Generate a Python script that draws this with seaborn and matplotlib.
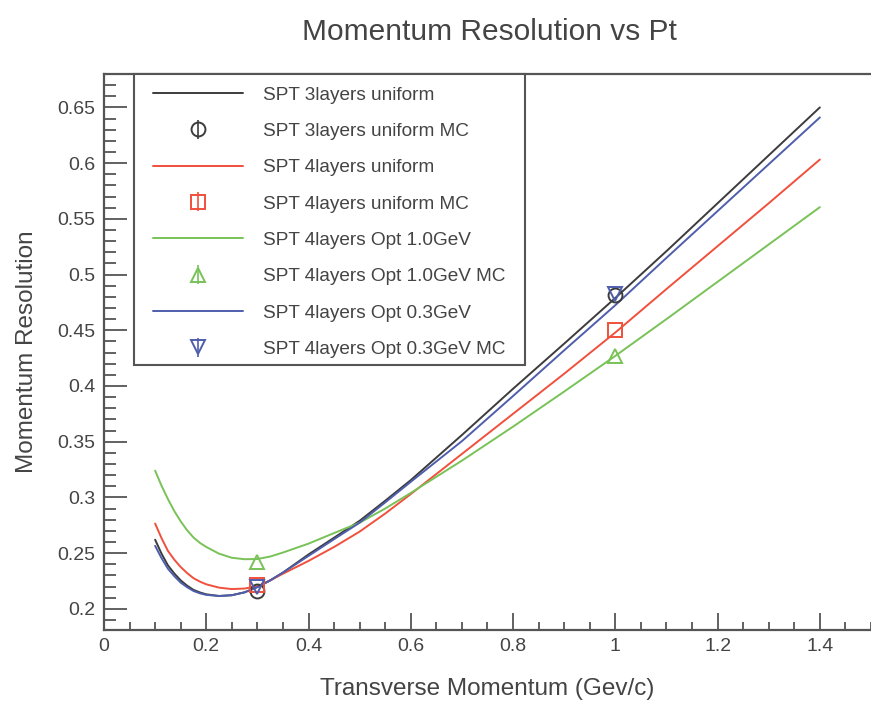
import matplotlib
matplotlib.use("Agg")
import matplotlib.pyplot as plt
import matplotlib.ticker as mticker
from matplotlib.patches import Rectangle
import pandas as pd
import seaborn as sns

# transverse momentum grid of the curves (GeV/c)
pt = [0.1, 0.1125, 0.125, 0.1375, 0.15, 0.1625, 0.175, 0.1875, 0.2, 0.225, 0.25, 0.275, 0.3, 0.325, 0.35,
      0.4, 0.45, 0.5, 0.55, 0.6, 0.7, 0.8, 0.9, 1.0, 1.1, 1.2, 1.3, 1.4]

res_3l_uniform = [0.262, 0.2495, 0.239, 0.2317, 0.2255, 0.2208, 0.217, 0.2147, 0.213, 0.2115, 0.2122,
                  0.2148, 0.2195, 0.2255, 0.2325, 0.2488, 0.2638, 0.279, 0.297, 0.3155, 0.356, 0.3975,
                  0.438, 0.479, 0.521, 0.564, 0.607, 0.650]
res_4l_uniform = [0.2765, 0.2634, 0.252, 0.2441, 0.2375, 0.2321, 0.2275, 0.2244, 0.222, 0.219, 0.2177,
                  0.2182, 0.2203, 0.2255, 0.2315, 0.243, 0.2555, 0.2693, 0.2855, 0.303, 0.339, 0.375,
                  0.411, 0.448, 0.487, 0.5255, 0.564, 0.6032]
res_4l_opt10 = [0.324, 0.3105, 0.2985, 0.2877, 0.2785, 0.2705, 0.264, 0.2592, 0.2555, 0.2495, 0.2458,
                0.2445, 0.2447, 0.2469, 0.2505, 0.2585, 0.268, 0.2773, 0.290, 0.304, 0.333, 0.3635,
                0.395, 0.427, 0.460, 0.4935, 0.527, 0.5605]
res_4l_opt03 = [0.2565, 0.2455, 0.236, 0.2293, 0.2235, 0.2194, 0.216, 0.2139, 0.2125, 0.2115, 0.2122,
                0.2148, 0.2195, 0.2255, 0.2325, 0.2475, 0.2625, 0.2773, 0.2955, 0.314, 0.3505, 0.391,
                0.432, 0.4725, 0.515, 0.557, 0.599, 0.641]

# Monte Carlo points
mc_pt = [0.3, 1.0]
mc_3l_uniform = [0.2164, 0.4814]
mc_4l_uniform = [0.2215, 0.450]
mc_4l_opt10 = [0.2418, 0.4267]
mc_4l_opt03 = [0.2194, 0.4823]

labels = ["SPT 3layers uniform", "SPT 4layers uniform",
          "SPT 4layers Opt 1.0GeV", "SPT 4layers Opt 0.3GeV"]
colors = ["#3c3c3c", "#f0503c", "#78c257", "#4f5eac"]
markers = ["o", "s", "^", "v"]
curves = [res_3l_uniform, res_4l_uniform, res_4l_opt10, res_4l_opt03]
mc_values = [mc_3l_uniform, mc_4l_uniform, mc_4l_opt10, mc_4l_opt03]

sns.set_style("white")
plt.rcParams["font.family"] = ["Liberation Sans", "DejaVu Sans"]
text_color = "#444444"
axis_color = "#555555"

fig = plt.figure(figsize=(8.71, 7.02), dpi=100)
ax = fig.add_axes([0.1194, 0.1026, 0.8806, 0.792])

handles = []
for label, color, marker, curve, mc in zip(labels, colors, markers, curves, mc_values):
    df = pd.DataFrame({"pt": pt, "res": curve})
    sns.lineplot(data=df, x="pt", y="res", ax=ax, color=color, linewidth=1.4, label=label, legend=False)
    line = ax.get_lines()[-1]
    eb = ax.errorbar(mc_pt, mc, yerr=[0.0, 0.0], fmt=marker, color=color, markerfacecolor="none",
                     markeredgecolor=color, markeredgewidth=1.4, markersize=10, elinewidth=1.2,
                     capsize=0, label=label + " MC", zorder=4)
    handles += [line, eb]

ax.set_xlim(0, 1.5)
ax.set_ylim(0.181, 0.680)
ax.xaxis.set_major_locator(mticker.MultipleLocator(0.2))
ax.xaxis.set_minor_locator(mticker.MultipleLocator(0.05))
ax.yaxis.set_major_locator(mticker.MultipleLocator(0.05))
ax.yaxis.set_minor_locator(mticker.MultipleLocator(0.01))
fmt = mticker.FuncFormatter(lambda v, _: f"{v:.2f}".rstrip("0").rstrip("."))
ax.xaxis.set_major_formatter(fmt)
ax.yaxis.set_major_formatter(fmt)

ax.tick_params(which="both", direction="in", colors=axis_color, labelcolor=text_color,
               labelsize=14, top=False, right=False, bottom=True, left=True, width=1.3)
ax.tick_params(axis="y", which="major", length=16.5, pad=6)
ax.tick_params(axis="y", which="minor", length=8.5)
ax.tick_params(axis="x", which="major", length=12, pad=6)
ax.tick_params(axis="x", which="minor", length=6)

for side in ["left", "bottom", "top"]:
    ax.spines[side].set_color(axis_color)
    ax.spines[side].set_linewidth(1.6)
ax.spines["right"].set_visible(False)

ax.set_xlabel("Transverse Momentum (Gev/c)", fontsize=17.5, color=text_color, labelpad=16)
ax.set_ylabel("Momentum Resolution", fontsize=17.5, color=text_color, labelpad=14)
fig.text(0.562, 0.955, "Momentum Resolution vs Pt", fontsize=21.5, color=text_color, ha="center", va="center")

# legend box drawn separately so the entries can sit with ROOT-like padding
ax.add_patch(Rectangle((0.039, 0.4766), 0.5098, 0.5234, transform=ax.transAxes, facecolor="white",
                       edgecolor=axis_color, linewidth=1.5, zorder=5, clip_on=False))
leg = ax.legend(handles=handles, labels=[h.get_label() for h in handles], loc="upper left",
                bbox_to_anchor=(0.0639, 0.978), fontsize=13.7, frameon=False,
                handlelength=4.75, handletextpad=1.05, labelspacing=1.0, borderpad=0.0,
                borderaxespad=0.0, labelcolor=text_color)
leg.set_zorder(6)

fig.savefig("out.png", dpi=100)
